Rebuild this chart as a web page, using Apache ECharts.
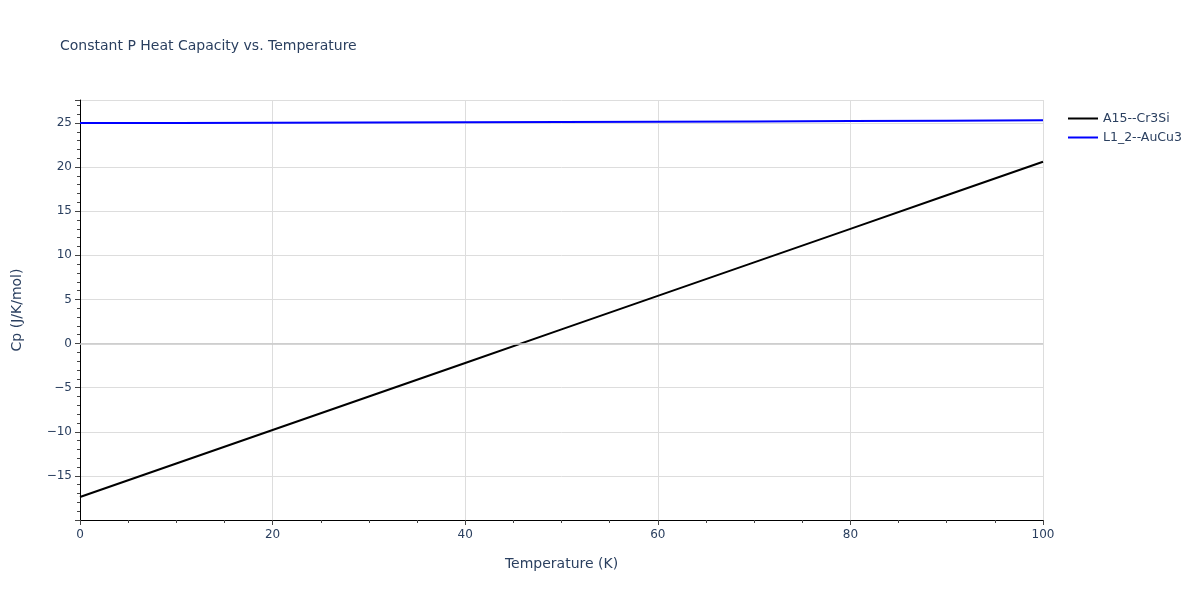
<!DOCTYPE html>
<html>
<head>
<meta charset="utf-8">
<script src="https://cdn.jsdelivr.net/npm/echarts@6/dist/echarts.min.js"></script>
<style>html,body{margin:0;padding:0;background:#fff;}#c{width:1200px;height:600px;}</style>
</head>
<body>
<div id="c"></div>
<script>
const temperatures = [0, 10, 20, 30, 40, 50, 60, 70, 80, 90, 100];
const cpA15Cr3Si = [-17.4, -13.6, -9.8, -6.0, -2.2, 1.6, 5.4, 9.2, 13.0, 16.8, 20.6];
const cpL12AuCu3 = [24.98, 25.0, 25.03, 25.05, 25.08, 25.11, 25.14, 25.17, 25.21, 25.25, 25.3];
const seriesNames = ['A15--Cr3Si', 'L1_2--AuCu3'];
const seriesColors = ['#000000', '#0000ff'];

const font = '"DejaVu Sans", Verdana, sans-serif';
const textColor = '#2a3f5f';
const chart = echarts.init(document.getElementById('c'));
const toPairs = (xs, ys) => xs.map((x, i) => [x, ys[i]]);
chart.setOption({
  animation: false,
  backgroundColor: '#fff',
  title: {
    text: 'Constant P Heat Capacity vs. Temperature',
    left: 60, top: 39, padding: 0,
    textStyle: { fontFamily: font, fontSize: 14, fontWeight: 'normal', color: textColor }
  },
  legend: {
    left: 1063, top: 107, orient: 'vertical', itemGap: 6,
    itemWidth: 30, itemHeight: 2, icon: 'rect',
    textStyle: { fontFamily: font, fontSize: 12.5, color: textColor },
    data: seriesNames
  },
  grid: { left: 80, right: 157, top: 100, bottom: 80 },
  xAxis: {
    type: 'value', min: 0, max: 100, interval: 20,
    name: 'Temperature (K)', nameLocation: 'middle', nameGap: 37,
    nameTextStyle: { fontFamily: font, fontSize: 14, color: textColor },
    axisLine: { show: true, onZero: false, lineStyle: { color: '#000', width: 1 } },
    axisTick: { show: true, length: 5, lineStyle: { color: '#444' } },
    minorTick: { show: true, splitNumber: 4, length: 3, lineStyle: { color: '#444' } },
    axisLabel: { fontFamily: font, fontSize: 12, color: textColor, margin: 9 },
    splitLine: { show: true, lineStyle: { color: '#dddddd', width: 1 } }
  },
  yAxis: {
    type: 'value', min: -20, max: 27.6, interval: 5,
    name: 'Cp (J/K/mol)', nameLocation: 'middle', nameGap: 56,
    nameTextStyle: { fontFamily: font, fontSize: 14, color: textColor },
    axisLine: { show: true, onZero: false, lineStyle: { color: '#000', width: 1 } },
    axisTick: { show: true, length: 5, lineStyle: { color: '#444' } },
    minorTick: { show: true, splitNumber: 5, length: 3, lineStyle: { color: '#444' } },
    axisLabel: {
      fontFamily: font, fontSize: 12, color: textColor, margin: 8,
      showMinLabel: false, showMaxLabel: false,
      formatter: v => (v < 0 ? '\u2212' + Math.abs(v) : String(v))
    },
    splitLine: {
      show: true,
      lineStyle: { color: '#dddddd', width: 1 }
    }
  },
  series: [
    {
      name: seriesNames[0], type: 'line', showSymbol: false,
      data: toPairs(temperatures, cpA15Cr3Si),
      lineStyle: { color: seriesColors[0], width: 2 }, itemStyle: { color: seriesColors[0] },
      markLine: {
        silent: true, symbol: 'none', label: { show: false },
        lineStyle: { color: '#c8c8c8', type: 'solid', width: 1.5 },
        data: [{ yAxis: 0 }]
      }
    },
    {
      name: seriesNames[1], type: 'line', showSymbol: false,
      data: toPairs(temperatures, cpL12AuCu3),
      lineStyle: { color: seriesColors[1], width: 2 }, itemStyle: { color: seriesColors[1] }
    }
  ]
});
</script>
</body>
</html>
